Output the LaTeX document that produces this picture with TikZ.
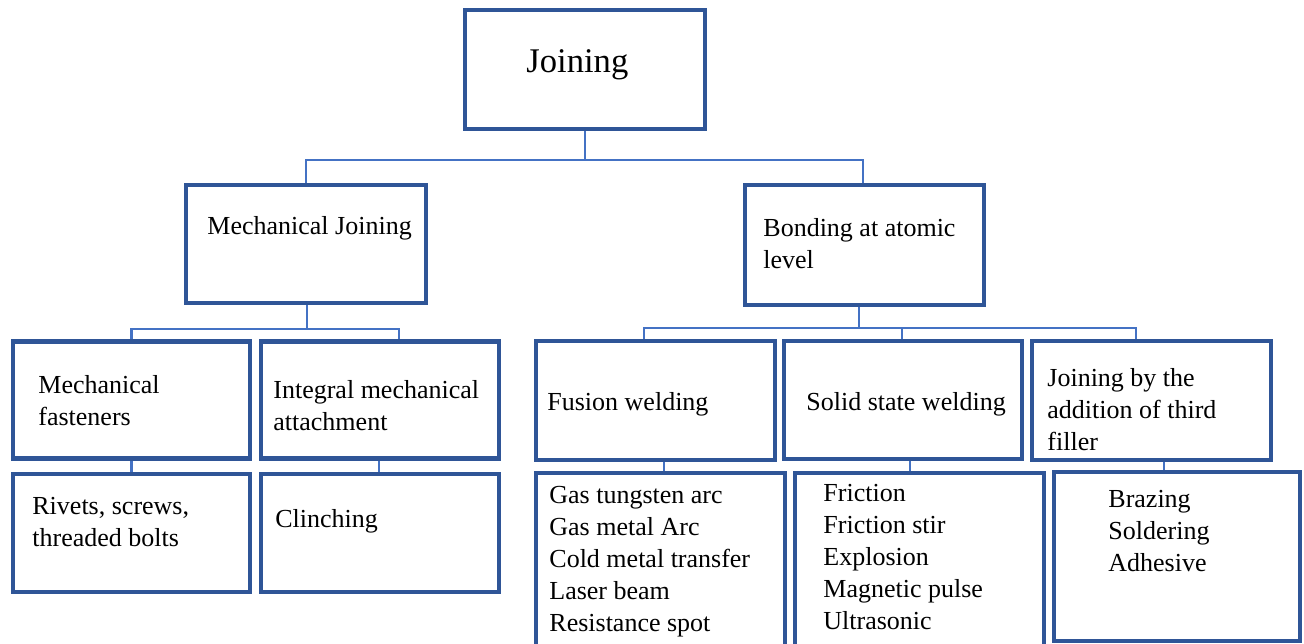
\documentclass[tikz,border=0pt]{standalone}
\usepackage{fontspec}
\setmainfont{Liberation Serif}
\definecolor{boxblue}{HTML}{2F5597}
\definecolor{linkblue}{HTML}{4472C4}
\tikzset{
  box/.style={draw=boxblue, line width=2.2pt, rectangle, inner sep=0pt, minimum width=#1},
  link/.style={draw=linkblue, line width=1.1pt},
  txt/.style={anchor=north west, inner sep=0pt, align=left, font=\fontsize{13}{16}\selectfont},
}
\begin{document}
\begin{tikzpicture}[x=0.5pt, y=-0.5pt]
\path[use as bounding box, clip] (0,0) rectangle (1304,643);
\fill[white] (0,0) rectangle (1304,643);
% boxes
\node[box=120pt, minimum height=59.5pt] (J)  at (585,69.5) {};
\node[box=120pt, minimum height=59pt]   (MJ) at (306,244) {};
\node[box=119.5pt, minimum height=60pt] (BA) at (864.5,245) {};
\node[box=118.5pt, minimum height=58.5pt] (MF) at (131.5,400) {};
\node[box=119pt, minimum height=58.5pt]   (IM) at (380,400) {};
\node[box=118.5pt, minimum height=59pt] (RS) at (131.5,533) {};
\node[box=119pt, minimum height=59pt]   (CL) at (380,533) {};
\node[box=119.5pt, minimum height=59.5pt] (FW) at (655.5,400.5) {};
\node[box=119pt, minimum height=59pt]     (SS) at (903,400) {};
\node[box=119.5pt, minimum height=59.5pt] (JA) at (1151.5,400.5) {};
\node[box=124.5pt, minimum height=110pt] (GT) at (660.5,583) {};
\node[box=124.5pt, minimum height=110pt] (FR) at (919.5,583) {};
\node[box=123pt, minimum height=84.5pt]  (BZ) at (1177,556.5) {};
% texts
\node[anchor=base west, inner sep=0pt, font=\fontsize{17.3}{20}\selectfont] (tJ) at (526,72) {Joining};
\node[txt] (tMJ) at (207,211.6) {\strut Mechanical Joining};
\node[txt] (tBA) at (763,213.6) {\strut Bonding at atomic\\level};
\node[txt] (tMF) at (38,370.6) {\strut Mechanical\\fasteners};
\node[txt] (tIM) at (273,375.6) {\strut Integral mechanical\\attachment};
\node[txt] (tRS) at (32,491.6) {\strut Rivets, screws,\\threaded bolts};
\node[txt] (tCL) at (275,504.6) {\strut Clinching};
\node[txt] (tFW) at (547,387.6) {\strut Fusion welding};
\node[txt] (tSS) at (806,387.6) {\strut Solid state welding};
\node[txt] (tJA) at (1047,363.6) {\strut Joining by the\\addition of third\\filler};
\node[txt] (tGT) at (549,480.6) {\strut Gas tungsten arc\\Gas metal Arc\\Cold metal transfer\\Laser beam\\Resistance spot};
\node[txt] (tFR) at (823,478.6) {\strut Friction\\Friction stir\\Explosion\\Magnetic pulse\\Ultrasonic};
\node[txt] (tBZ) at (1108,484.6) {\strut Brazing\\Soldering\\Adhesive};
% connectors
\draw[link] (J.south) -- ++(0,29) -| (MJ.north);
\draw[link] (J.south) -- ++(0,29) -| ([xshift=-0.75pt]BA.north);
\draw[link] ([xshift=0.5pt]MJ.south) -- ++(0,24) -| (MF.north);
\draw[link] ([xshift=0.5pt]MJ.south) -- ++(0,24) -| ([xshift=9.5pt]IM.north);
\draw[link] (MF.south) -- (RS.north);
\draw[link] ([xshift=-0.5pt]IM.south) -- ([xshift=-0.5pt]CL.north);
\draw[link] ([xshift=-2.75pt]BA.south) -- ++(0,21) -| ([xshift=-5.75pt]FW.north);
\draw[link] ([xshift=-2.75pt]BA.south) -- ++(0,21) -| ([xshift=-0.5pt]SS.north);
\draw[link] ([xshift=-2.75pt]BA.south) -- ++(0,21) -| ([xshift=-7.75pt]JA.north);
\draw[link] ([xshift=4.25pt]FW.south) -- ([xshift=1.75pt]GT.north);
\draw[link] ([xshift=3.5pt]SS.south) -- ([xshift=-4.75pt]FR.north);
\draw[link] ([xshift=6.25pt]JA.south) -- ([xshift=-6.5pt]BZ.north);
\end{tikzpicture}
\end{document}
